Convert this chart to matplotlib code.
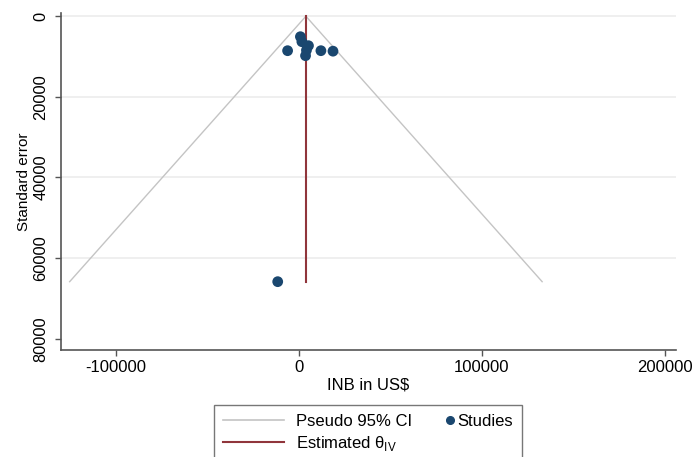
import numpy as np
import matplotlib.pyplot as plt
from matplotlib.lines import Line2D
from matplotlib.legend_handler import HandlerLine2D

plt.rcParams['font.family'] = ['Liberation Sans', 'DejaVu Sans']

# study estimates
inb = [-6200, 800, 1600, 5200, 4100, 3600, 12000, 18600, -11600]
se = [8550, 5080, 6320, 7310, 8430, 9790, 8550, 8670, 65850]
theta_iv = 3800  # estimated effect (IV)

yticks = [0, 20000, 40000, 60000, 80000]
xticks = [-100000, 0, 100000, 200000]

navy = '#1a476f'
maroon = '#90353b'

# pseudo 95% CI funnel
se_line = np.array([0, max(se)])
lo = theta_iv - 1.96 * se_line
hi = theta_iv + 1.96 * se_line


class RightMarker(HandlerLine2D):
    # stata puts the marker at the right end of the key, next to the text
    def get_xdata(self, legend, xdescent, ydescent, width, height, fontsize):
        xd, xm = super().get_xdata(legend, xdescent, ydescent, width, height, fontsize)
        end = -xdescent + width
        return [end - 2, end + 10], xm


fig = plt.figure(figsize=(6.92, 4.57), dpi=100)
ax = fig.add_axes([61 / 692, 1 - 350 / 457, (676 - 61) / 692, (350 - 13) / 457])

for y in yticks[:-1]:
    ax.axhline(y, color='#ececec', lw=1.2, zorder=0)

ax.plot(lo, se_line, color='#c4c4c4', lw=1.0, zorder=1)
ax.plot(hi, se_line, color='#c4c4c4', lw=1.0, zorder=1)
ax.plot([theta_iv, theta_iv], [0, max(se)], color=maroon, lw=1.5, zorder=2)
ax.scatter(inb, se, s=60, color=navy, zorder=3, edgecolors='none')

ax.set_xlim(-130000, 206000)
ax.set_ylim(82800, -800)
ax.set_yticks(yticks)
ax.set_xticks(xticks)
ax.set_yticklabels([str(v) for v in yticks], rotation=90, va='center', fontsize=11.8)
ax.set_xticklabels([str(v) for v in xticks], fontsize=12)
ax.tick_params(length=4, width=1, color='#555555')
ax.tick_params(axis='x', pad=3)
ax.tick_params(axis='y', pad=5)

for s in ['top', 'right']:
    ax.spines[s].set_visible(False)
for s in ['left', 'bottom']:
    ax.spines[s].set_color('#555555')
    ax.spines[s].set_linewidth(1.2)

ax.set_xlabel('INB in US$', fontsize=12, labelpad=2)
ax.set_ylabel('Standard error', fontsize=11, labelpad=2)

h_ci = Line2D([], [], color='#c4c4c4', lw=1.2)
h_theta = Line2D([], [], color=maroon, lw=1.5)
h_st = Line2D([], [], color=navy, marker='o', ls='none', markersize=5.5)
leg = fig.legend([h_ci, h_theta, h_st], ['Pseudo 95% CI', 'Estimated θ$_{\\mathregular{IV}}$', 'Studies'],
                 ncol=2, loc='upper center', bbox_to_anchor=(368 / 692, 1 - 405 / 457),
                 frameon=True, fancybox=False, fontsize=12,
                 handlelength=3.65, handletextpad=0.72, columnspacing=-1.7,
                 borderpad=0.55, labelspacing=0.3, borderaxespad=0,
                 handler_map={h_st: RightMarker()})
leg.get_frame().set_edgecolor('#555555')
leg.get_frame().set_linewidth(1.0)

fig.savefig('out.png', dpi=100)
